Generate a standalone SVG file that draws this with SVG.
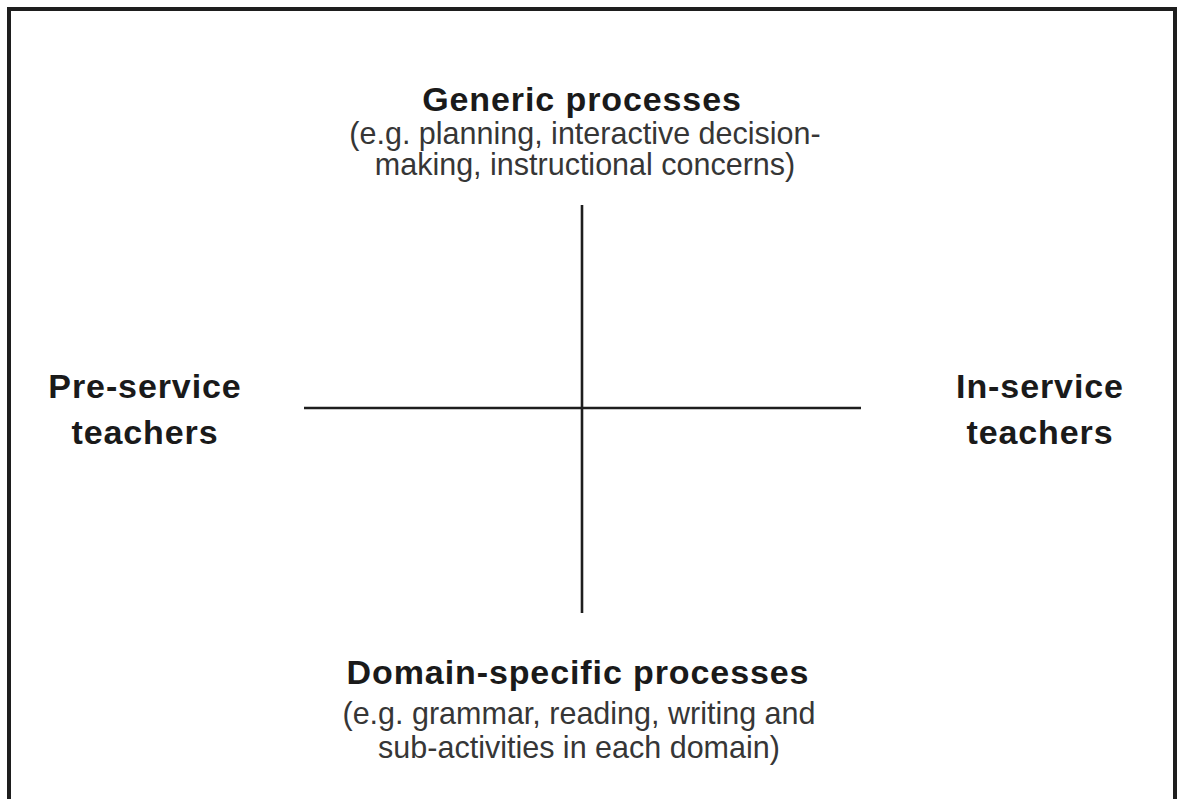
<svg xmlns="http://www.w3.org/2000/svg" width="1177" height="799" viewBox="0 0 1177 799">
  <style>
    .frame { fill: none; stroke: #1e1e1e; stroke-width: 4; }
    .axis { stroke: #1e1e1e; stroke-width: 2.6; fill: none; }
    .head { font-family: "Liberation Sans", Arial, sans-serif; font-weight: bold; font-size: 34px; letter-spacing: 0.9px; fill: #1a1a1a; text-anchor: middle; }
    .note { font-family: "Liberation Sans", Arial, sans-serif; font-size: 30.5px; fill: #363636; text-anchor: middle; }
  </style>
  <rect width="1177" height="799" fill="#ffffff"/>
  <rect class="frame" x="9" y="9" width="1166" height="820"/>

  <g id="connectors">
    <line class="axis" x1="304" y1="408" x2="861" y2="408"/>
    <line class="axis" x1="582" y1="205" x2="582" y2="613"/>
  </g>

  <g id="generic">
    <text class="head" x="582" y="111">Generic processes</text>
    <text class="note" x="585" y="144">(e.g. planning, interactive decision-</text>
    <text class="note" x="585" y="175">making, instructional concerns)</text>
  </g>

  <g id="pre-service">
    <text class="head" x="145" y="398">Pre-service</text>
    <text class="head" x="145" y="444">teachers</text>
  </g>

  <g id="in-service">
    <text class="head" x="1040" y="398">In-service</text>
    <text class="head" x="1040" y="444">teachers</text>
  </g>

  <g id="domain">
    <text class="head" x="578" y="684">Domain-specific processes</text>
    <text class="note" x="579" y="724">(e.g. grammar, reading, writing and</text>
    <text class="note" x="579" y="758">sub-activities in each domain)</text>
  </g>
</svg>
